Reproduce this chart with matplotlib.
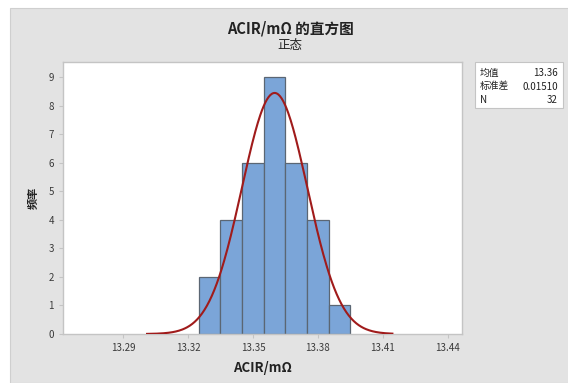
import numpy as np
import matplotlib
matplotlib.use("Agg")
import matplotlib.pyplot as plt
from matplotlib.patches import Rectangle

plt.rcParams["font.family"] = ["Noto Sans CJK SC", "DejaVu Sans"]

# 数据
bin_centers = [13.33, 13.34, 13.35, 13.36, 13.37, 13.38, 13.39]
counts = [2, 4, 6, 9, 6, 4, 1]
bin_width = 0.01
mean_val = 13.36
std_val = 0.01510
n_val = 32
xticks = [13.29, 13.32, 13.35, 13.38, 13.41, 13.44]
yticks = list(range(10))

fig = plt.figure(figsize=(5.68, 3.83), dpi=100)
fig.patch.set_facecolor("white")

# 灰色背景面板
fig.patches.append(Rectangle((10 / 568, 0), 1, 1 - 8 / 383, transform=fig.transFigure,
                             facecolor="#e3e3e3", edgecolor="#cfcfcf", linewidth=0.8, zorder=-10))

ax = fig.add_axes([63 / 568, 49 / 383, 399 / 568, 272 / 383])
ax.set_zorder(5)
ax.set_facecolor("white")

ax.bar(bin_centers, counts, width=bin_width, color="#7ba5d8", edgecolor="#5b6673",
       linewidth=0.9, zorder=2)

# 正态拟合曲线
xs = np.linspace(mean_val - 3.9 * std_val, mean_val + 3.6 * std_val, 300)
ys = n_val * bin_width / (std_val * np.sqrt(2 * np.pi)) * np.exp(-0.5 * ((xs - mean_val) / std_val) ** 2)
ax.plot(xs, ys, color="#a01b1b", linewidth=1.5, zorder=3)

ax.set_xlim(13.2623, 13.4465)
ax.set_ylim(0, 9.54)
ax.set_xticks(xticks)
ax.set_xticklabels([f"{t:.2f}" for t in xticks])
ax.set_yticks(yticks)

for s in ax.spines.values():
    s.set_color("#c4c4c4")
    s.set_linewidth(1.0)
ax.tick_params(colors="#c4c4c4", labelcolor="#3a3a3a", labelsize=7, length=3, width=0.8)

ax.set_xlabel("ACIR/mΩ", fontsize=9.5, fontweight="bold", color="#222222", labelpad=6)
ax.set_ylabel("频率", fontsize=8, fontweight="bold", color="#222222", labelpad=6)

fig.text(290 / 568, 1 - 28 / 383, "ACIR/mΩ 的直方图", ha="center", va="center",
         fontsize=10.5, fontweight="bold", color="#222222")
fig.text(290 / 568, 1 - 45 / 383, "正态", ha="center", va="center", fontsize=9, color="#222222")

# 统计信息框
fig.patches.append(Rectangle((475 / 568, 1 - 108 / 383), 88 / 568, 46 / 383, transform=fig.transFigure,
                             facecolor="white", edgecolor="#c4c4c4", linewidth=0.8, zorder=1))
rows = [("均值", "13.36"), ("标准差", "0.01510"), ("N", "32")]
for i, (lab, val) in enumerate(rows):
    y = 1 - (73 + i * 13.5) / 383
    fig.text(480 / 568, y, lab, ha="left", va="center", fontsize=7, color="#222222")
    fig.text(558 / 568, y, val, ha="right", va="center", fontsize=7, color="#222222")

fig.savefig("out.png", dpi=100)
plt.close(fig)
